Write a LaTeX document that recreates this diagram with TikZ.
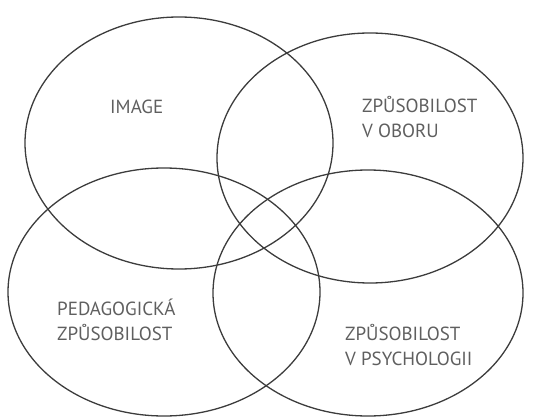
\documentclass[tikz,border=0pt]{standalone}
\usepackage{fontspec}
\setmainfont{PT Sans}
\usetikzlibrary{shapes.geometric,positioning}

\definecolor{ringgray}{RGB}{60,60,60}
\definecolor{labelgray}{RGB}{95,95,95}

\begin{document}
\begin{tikzpicture}[
    x=1pt, y=1pt,
    ring/.style={draw=ringgray, line width=1.3pt, ellipse, inner sep=0pt},
    lbl/.style={text=labelgray, align=left, inner sep=0pt, anchor=base west,
        font=\fontsize{19}{25}\selectfont}
]
    \useasboundingbox (0,0) rectangle (547,416);

    % the four fields
    \node[ring, minimum width=308pt, minimum height=252pt] (image) at (179,273) {};
    \node[ring, minimum width=306pt, minimum height=250pt] (obor) at (370,258) {};
    \node[ring, minimum width=312pt, minimum height=248pt] (pedag) at (164,124) {};
    \node[ring, minimum width=310pt, minimum height=246pt] (psych) at (368,123) {};

    % labels (base = last line)
    \node[lbl] (imagetxt) at (110,302) {IMAGE};
    \node[lbl] (obortxt) at (362,278) {ZPŮSOBILOST\\V OBORU};
    \node[lbl] (pedagtxt) at (57,76) {PEDAGOGICKÁ\\ZPŮSOBILOST};
    \node[lbl] (psychtxt) at (345,51) {ZPŮSOBILOST\\V PSYCHOLOGII};
\end{tikzpicture}
\end{document}
